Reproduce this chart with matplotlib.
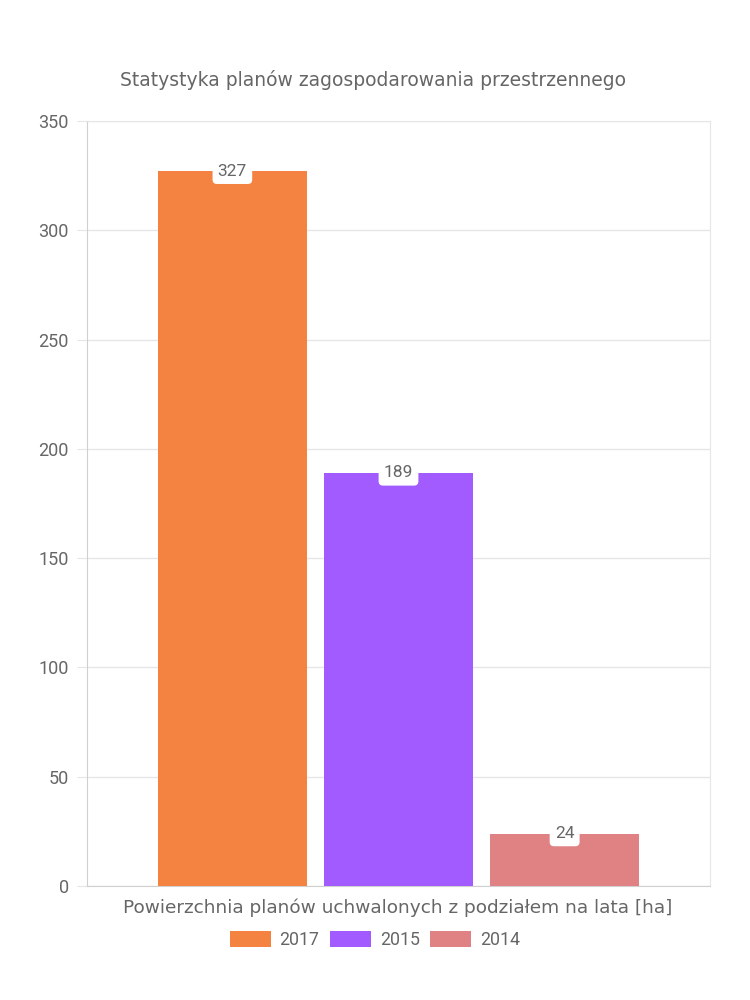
import matplotlib
matplotlib.use("Agg")
import matplotlib.pyplot as plt
from matplotlib.patches import Patch

years = ["2017", "2015", "2014"]
values = [327, 189, 24]
colors = ["#f48342", "#a25bfe", "#e08283"]
title = "Statystyka planów zagospodarowania przestrzennego"
xlabel = "Powierzchnia planów uchwalonych z podziałem na lata [ha]"
yticks = [0, 50, 100, 150, 200, 250, 300, 350]

plt.rcParams['font.family'] = ['Roboto', 'DejaVu Sans']
text_col = "#666666"
grid_col = "#e6e6e6"
wide = ['DejaVu Sans']

fig = plt.figure(figsize=(7.5, 10), dpi=100)
ax = fig.add_axes([87/750, 1 - 886/1000, (710-87)/750, (886-121)/1000])

step = 0.8 / 3
offsets = [-step, 0, step]
for off, v, c in zip(offsets, values, colors):
    ax.bar(off, v, width=step * 0.9, color=c, zorder=3)
    ax.text(off, v, str(v), ha="center", va="center", fontsize=12.5,
            color=text_col, zorder=4,
            bbox=dict(boxstyle="round,pad=0.3,rounding_size=0.25",
                      fc="white", ec="none"))

ax.set_xlim(-0.5, 0.5)
ax.set_ylim(0, 350)
ax.set_yticks(yticks)
ax.set_yticklabels([str(t) for t in yticks], fontsize=13, color=text_col)
ax.set_xticks([])
ax.grid(axis="y", color=grid_col, linewidth=1, zorder=0)
ax.tick_params(axis="y", length=7, color=grid_col, pad=6)
for s in ["top", "right"]:
    ax.spines[s].set_color(grid_col)
ax.spines["left"].set_color("#d0d0d0")
ax.spines["bottom"].set_color("#d0d0d0")

fig.text(373/750, 1 - 80/1000, title, ha="center", va="center",
         fontsize=13.5, color=text_col, family=wide)
fig.text(398/750, 1 - 908/1000, xlabel, ha="center", va="center",
         fontsize=13.3, color=text_col, family=wide)

handles = [Patch(facecolor=c, edgecolor="none") for c in colors]
fig.legend(handles, years, loc="center", bbox_to_anchor=(375/750, 1 - 940/1000),
           ncol=3, frameon=False, labelcolor=text_col,
           handlelength=2.3, handleheight=1.05, handletextpad=0.5,
           columnspacing=0.6, prop={'size': 12.8})

fig.savefig("out.png", dpi=100)
